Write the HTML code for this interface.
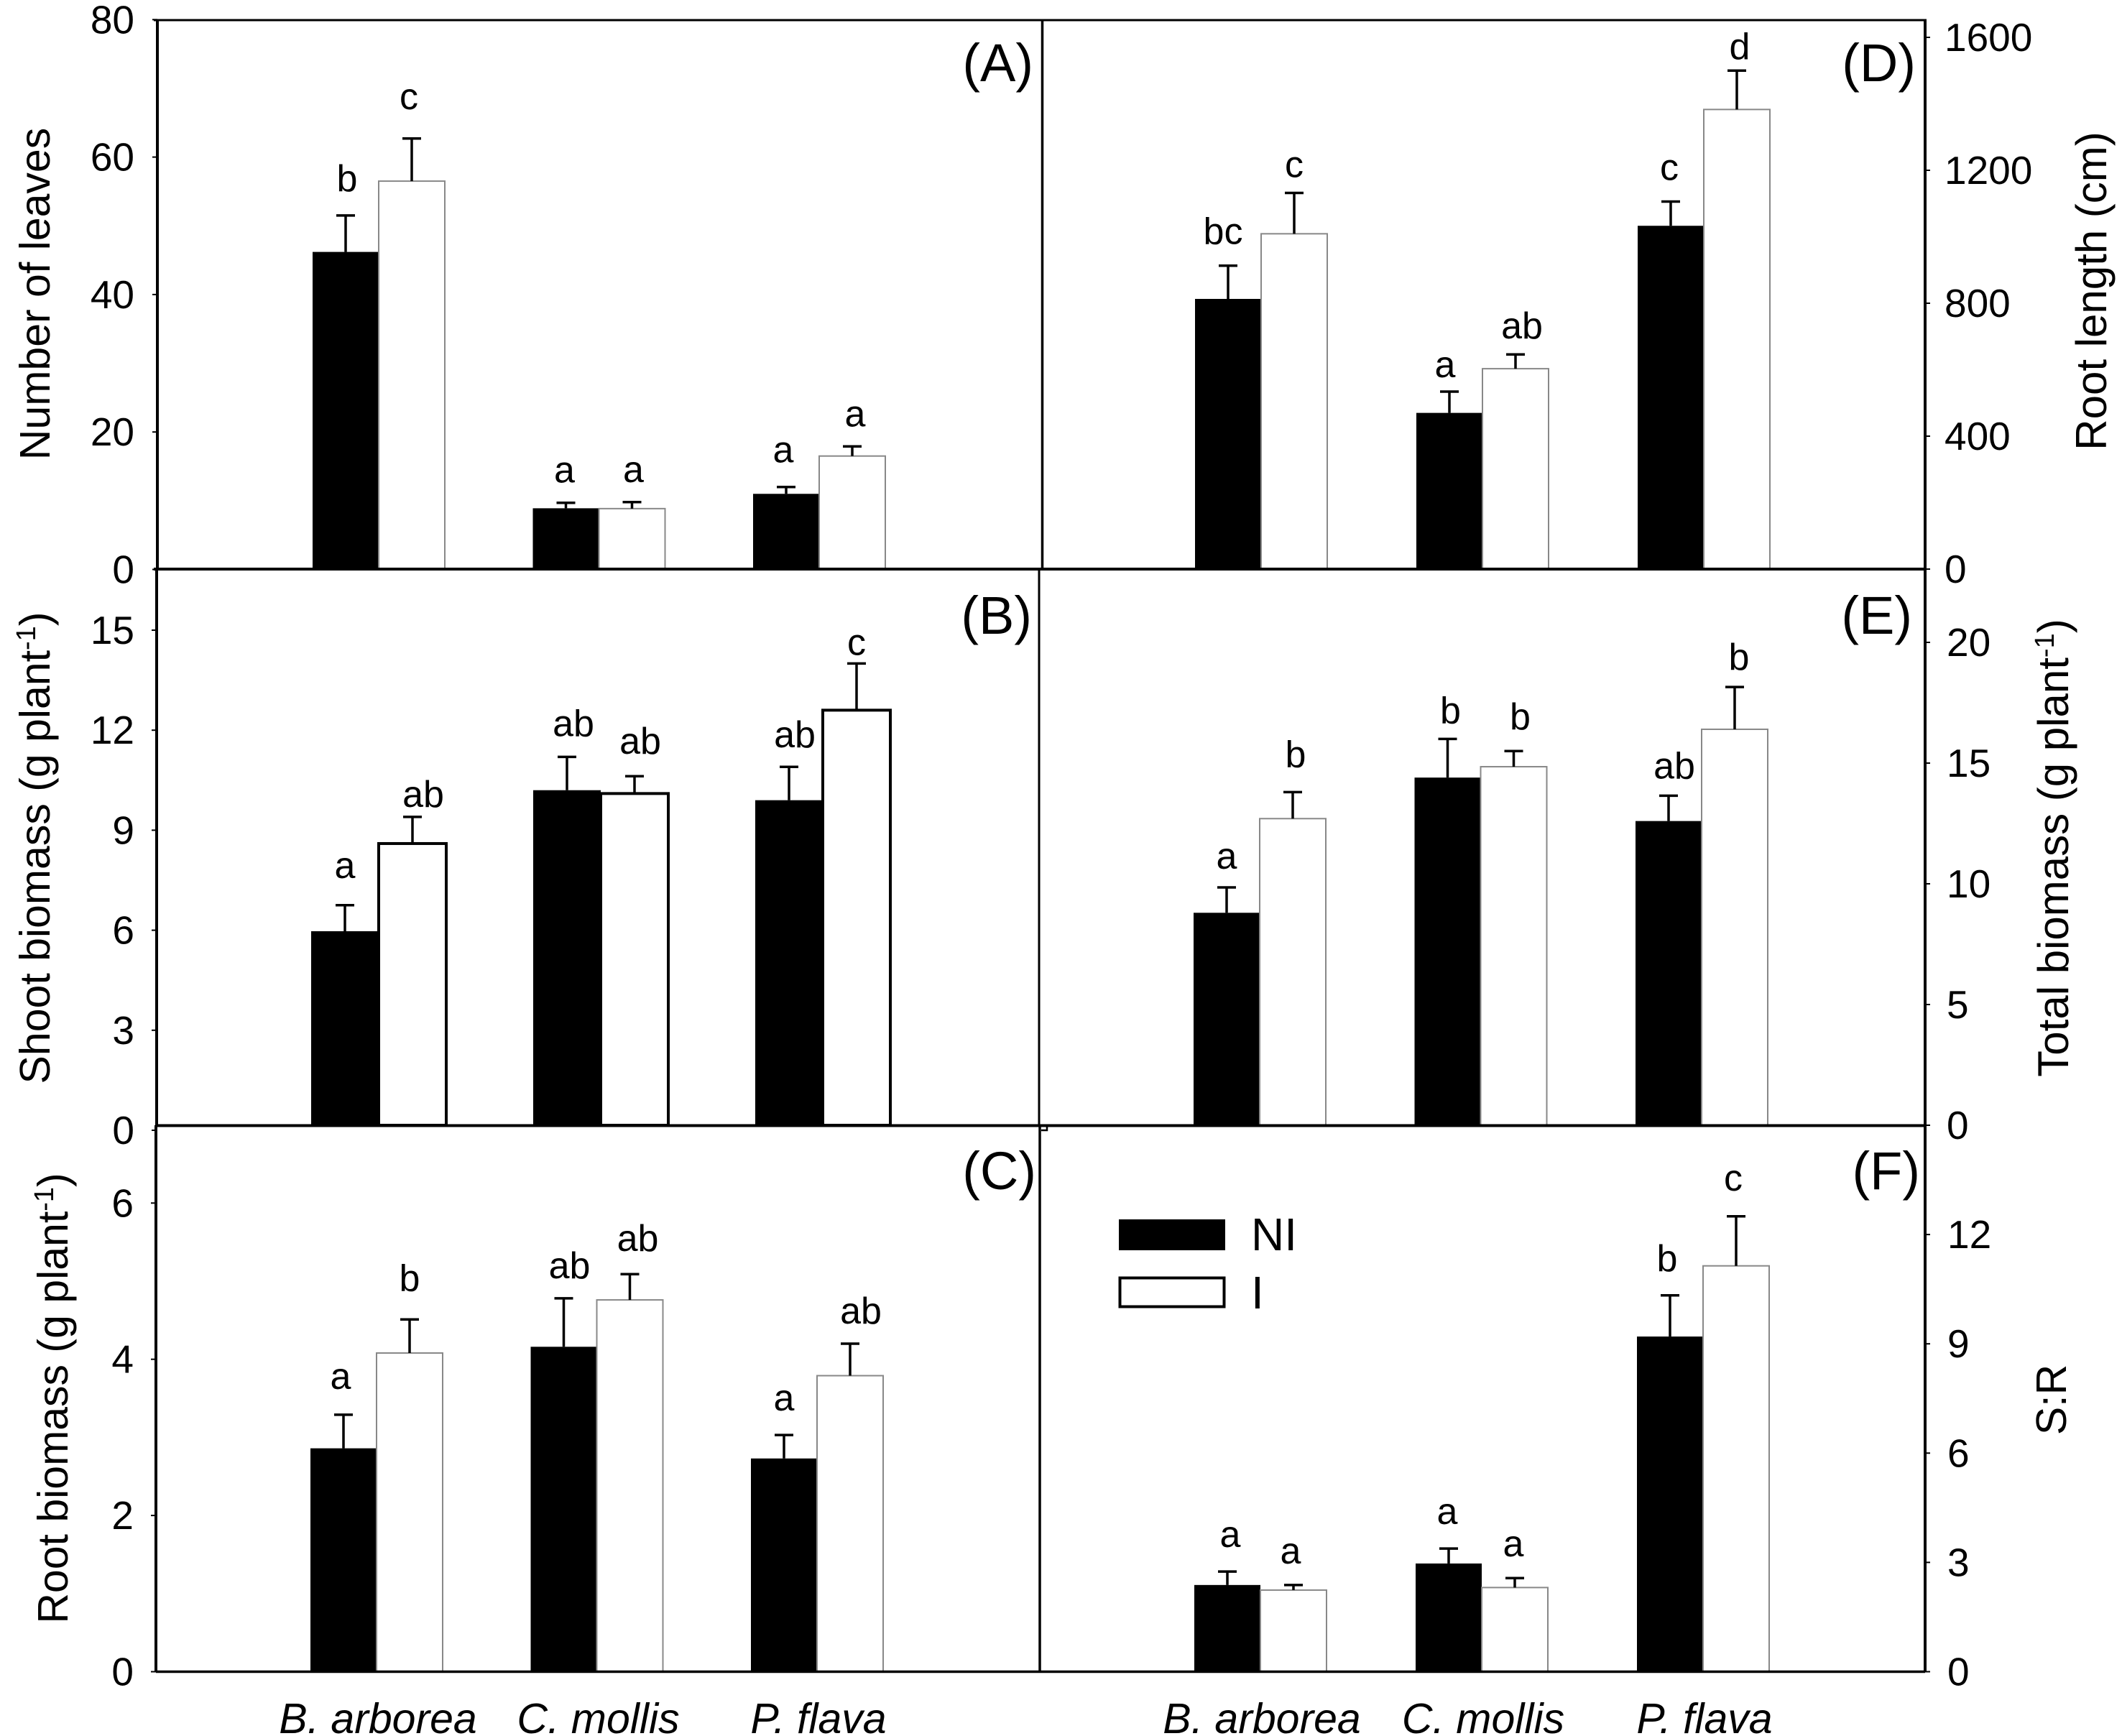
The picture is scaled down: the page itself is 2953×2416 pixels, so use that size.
<!DOCTYPE html>
<html lang="en">
<head>
<meta charset="utf-8">
<title>Plant growth under NI and I treatments</title>
<style>
html,body{margin:0;padding:0;background:#fff;}
svg{display:block;}
text{font-family:"Liberation Sans",Arial,sans-serif;fill:#000;}
</style>
</head>
<body>
<svg id="chart" xmlns="http://www.w3.org/2000/svg" width="2953" height="2416" viewBox="0 0 2953 2416">
  <rect x="0" y="0" width="2953" height="2416" fill="#fff"/>
  <g id="marks"></g>
  <g id="frame" stroke="#000" fill="none">
    <line x1="214" y1="28" x2="2681" y2="28" stroke-width="3"/>
    <line x1="219" y1="27" x2="219" y2="792" stroke-width="4"/>
    <line x1="218" y1="792" x2="218" y2="1566" stroke-width="4"/>
    <line x1="217" y1="1566" x2="217" y2="2327" stroke-width="4"/>
    <line x1="2679" y1="27" x2="2679" y2="2327" stroke-width="4"/>
    <line x1="1450.5" y1="28" x2="1450.5" y2="792" stroke-width="3.5"/>
    <line x1="1446" y1="792" x2="1446" y2="1566" stroke-width="3"/>
    <line x1="1447" y1="1566" x2="1447" y2="2327" stroke-width="3.5"/>
    <line x1="214" y1="792" x2="2679" y2="792" stroke-width="4"/>
    <line x1="218" y1="1566.5" x2="2679" y2="1566.5" stroke-width="4"/>
    <line x1="217" y1="2326.5" x2="2679" y2="2326.5" stroke-width="3.5"/>
    <path d="M1449 1573H1457V1568" stroke-width="2.5"/>
  </g>

  <text font-size="59" text-anchor="middle" transform="translate(69 409) rotate(-90)">Number of leaves</text>
  <text font-size="59" text-anchor="middle" transform="translate(69 1180) rotate(-90)">Shoot biomass (g plant<tspan font-size="38" dy="-20">-1</tspan><tspan dy="20">)</tspan></text>
  <text font-size="59" text-anchor="middle" transform="translate(94 1946) rotate(-90)">Root biomass (g plant<tspan font-size="38" dy="-20">-1</tspan><tspan dy="20">)</tspan></text>
  <text font-size="60" text-anchor="middle" transform="translate(2931 405) rotate(-90)">Root length (cm)</text>
  <text font-size="60" text-anchor="middle" transform="translate(2878 1180) rotate(-90)">Total biomass (g plant<tspan font-size="38" dy="-20">-1</tspan><tspan dy="20">)</tspan></text>
  <text font-size="59" text-anchor="middle" transform="translate(2875 1948) rotate(-90)">S:R</text>

  <text font-size="74" text-anchor="end" x="1438" y="113">(A)</text>
  <text font-size="74" text-anchor="end" x="1436" y="882">(B)</text>
  <text font-size="74" text-anchor="end" x="1442" y="1655">(C)</text>
  <text font-size="74" text-anchor="end" x="2666" y="113">(D)</text>
  <text font-size="74" text-anchor="end" x="2661" y="882">(E)</text>
  <text font-size="74" text-anchor="end" x="2672" y="1655">(F)</text>

  <g>
    <rect x="1557" y="1697" width="148" height="43" fill="#000"/>
    <text font-size="64" x="1741" y="1740">NI</text>
    <rect x="1558.5" y="1778.5" width="145" height="40" fill="#fff" stroke="#000" stroke-width="4"/>
    <text font-size="64" x="1741" y="1821">I</text>
  </g>
</svg>

<script>
const categories = ['B. arborea', 'C. mollis', 'P. flava'];

const leavesTicks = [0, 20, 40, 60, 80];
const leavesNI = [46.2, 8.9, 11];
const leavesI = [56.5, 8.85, 16.5];
const leavesNIErr = [5.3, 0.8, 1];
const leavesIErr = [6.2, 0.95, 1.4];
const leavesLetters = ['b', 'a', 'a', 'c', 'a', 'a'];

const shootTicks = [0, 3, 6, 9, 12, 15];
const shootNI = [5.97, 10.2, 9.9];
const shootI = [8.6, 10.1, 12.6];
const shootNIErr = [0.78, 1, 1];
const shootIErr = [0.8, 0.52, 1.4];
const shootLetters = ['a', 'ab', 'ab', 'ab', 'ab', 'c'];

const rootMassTicks = [2, 4, 6, 0];
const rootMassNI = [2.86, 4.16, 2.73];
const rootMassI = [4.08, 4.76, 3.79];
const rootMassNIErr = [0.43, 0.62, 0.3];
const rootMassIErr = [0.43, 0.33, 0.41];
const rootMassLetters = ['a', 'ab', 'a', 'b', 'ab', 'ab'];

const lengthTicks = [0, 400, 800, 1200, 1600];
const lengthNI = [813, 470, 1033];
const lengthI = [1009, 603, 1383];
const lengthNIErr = [100, 64, 73];
const lengthIErr = [123, 43, 117];
const lengthLetters = ['bc', 'a', 'c', 'c', 'ab', 'd'];

const totalTicks = [0, 5, 10, 15, 20];
const totalNI = [8.8, 14.4, 12.6];
const totalI = [12.7, 14.85, 16.4];
const totalNIErr = [1.05, 1.6, 1.05];
const totalIErr = [1.1, 0.65, 1.75];
const totalLetters = ['a', 'b', 'ab', 'b', 'b', 'b'];

const ratioTicks = [0, 3, 6, 9, 12];
const ratioNI = [2.38, 2.97, 9.2];
const ratioI = [2.24, 2.31, 11.14];
const ratioNIErr = [0.37, 0.41, 1.13];
const ratioIErr = [0.14, 0.26, 1.36];
const ratioLetters = ['a', 'a', 'b', 'a', 'a', 'c'];

const svgNS = 'http://www.w3.org/2000/svg';
const marks = document.getElementById('marks');

function make(tag, props, parent) {
  const node = document.createElementNS(svgNS, tag);
  for (const key in props) node.setAttribute(key, props[key]);
  parent.appendChild(node);
  return node;
}

function drawPanel(cfg) {
  const group = make('g', {}, marks);
  
  

  const y = function (value) { return cfg.zeroY - value * cfg.pxPerUnit; };
  const x = function (g, s) { return cfg.x0 + g * cfg.step + s * cfg.barW; };
  const series = [cfg.ni, cfg.i];
  const errs = [cfg.niErr, cfg.iErr];

  cfg.ticks.forEach(function (tick) {
    const ty = y(tick);
    const side = cfg.side === 'left' ? -1 : 1;
    const tickMark = make('line', { x1: cfg.axisX, x2: cfg.axisX + side * 7, y1: ty, y2: ty, stroke: '#000', 'stroke-width': 2 }, group);
    
    
    const tickLabel = make('text', { x: cfg.labelX, y: ty + 19, 'font-size': 55, 'text-anchor': cfg.side === 'left' ? 'end' : 'start' }, group);
    
    
    tickLabel.textContent = tick;
  });

  series.forEach(function (values, s) {
    values.forEach(function (value, g) {
      const left = x(g, s);
      const top = y(value);
      const bar = make('rect', {
        x: left, y: top, width: cfg.barW, height: cfg.bottomY - top,
        fill: s === 0 ? '#000' : '#fff',
        stroke: s === 0 ? 'none' : cfg.outline,
        'stroke-width': s === 0 ? 0 : cfg.outlineW
      }, group);
      
      

      const centre = left + cfg.barW / 2;
      const errTop = y(value + errs[s][g]);
      const stem = make('line', { x1: centre, x2: centre, y1: top, y2: errTop, stroke: '#000', 'stroke-width': 3.5 }, group);
      
      
      const cap = make('line', { x1: centre - 13, x2: centre + 13, y1: errTop, y2: errTop, stroke: '#000', 'stroke-width': 3.5 }, group);
      
      

      const idx = s * 3 + g;
      const letter = make('text', { x: centre + cfg.shift[idx], y: errTop - cfg.lift[idx], 'font-size': 52, 'text-anchor': 'middle' }, group);
      
      
      letter.textContent = cfg.letters[idx];
    });
  });

  if (cfg.showCategories) {
    categories.forEach(function (name, g) {
      const label = make('text', { x: x(g, 1) + 2, y: 2412, 'font-size': 59, 'font-style': 'italic', 'text-anchor': 'middle' }, group);
      
      
      label.textContent = name;
    });
  }
}

drawPanel({ ni: leavesNI, i: leavesI, niErr: leavesNIErr, iErr: leavesIErr, letters: leavesLetters, ticks: leavesTicks,
  side: 'left', axisX: 219, labelX: 187, zeroY: 792.5, pxPerUnit: 9.565, bottomY: 792,
  x0: 435, step: 306.5, barW: 92, outline: '#888', outlineW: 2,
  lift: [34, 28, 34, 41, 28, 28], shift: [2, -2, -4, -4, 2, 4] });
drawPanel({ ni: shootNI, i: shootI, niErr: shootNIErr, iErr: shootIErr, letters: shootLetters, ticks: shootTicks,
  side: 'left', axisX: 218, labelX: 187, zeroY: 1573, pxPerUnit: 46.4, bottomY: 1566,
  x0: 433, step: 309, barW: 94, outline: '#000', outlineW: 4,
  lift: [38, 29, 27, 14, 31, 12], shift: [0, 9, 8, 15, 8, 0] });
drawPanel({ ni: rootMassNI, i: rootMassI, niErr: rootMassNIErr, iErr: rootMassIErr, letters: rootMassLetters, ticks: rootMassTicks,
  side: 'left', axisX: 217, labelX: 186, zeroY: 2326.5, pxPerUnit: 108.7, bottomY: 2326,
  x0: 432, step: 306.5, barW: 92, outline: '#888', outlineW: 2,
  lift: [36, 28, 34, 40, 32, 28], shift: [-4, 8, 0, 0, 11, 15], showCategories: true });
drawPanel({ ni: lengthNI, i: lengthI, niErr: lengthNIErr, iErr: lengthIErr, letters: lengthLetters, ticks: lengthTicks,
  side: 'right', axisX: 2679, labelX: 2706, zeroY: 792, pxPerUnit: 0.4625, bottomY: 792,
  x0: 1663, step: 308, barW: 92, outline: '#888', outlineW: 2,
  lift: [30, 20, 30, 22, 22, 16], shift: [-7, -6, -2, 0, 9, 4] });
drawPanel({ ni: totalNI, i: totalI, niErr: totalNIErr, iErr: totalIErr, letters: totalLetters, ticks: totalTicks,
  side: 'right', axisX: 2679, labelX: 2709, zeroY: 1566, pxPerUnit: 33.6, bottomY: 1566,
  x0: 1661, step: 307.5, barW: 92, outline: '#888', outlineW: 2,
  lift: [26, 22, 24, 35, 30, 24], shift: [0, 4, 8, 4, 9, 6] });
drawPanel({ ni: ratioNI, i: ratioI, niErr: ratioNIErr, iErr: ratioIErr, letters: ratioLetters, ticks: ratioTicks,
  side: 'right', axisX: 2679, labelX: 2710, zeroY: 2326.5, pxPerUnit: 50.7, bottomY: 2326,
  x0: 1662, step: 308, barW: 92, outline: '#888', outlineW: 2,
  lift: [34, 34, 34, 30, 30, 36], shift: [4, -2, -4, -4, -2, -4], showCategories: true });
</script>
</body>
</html>
